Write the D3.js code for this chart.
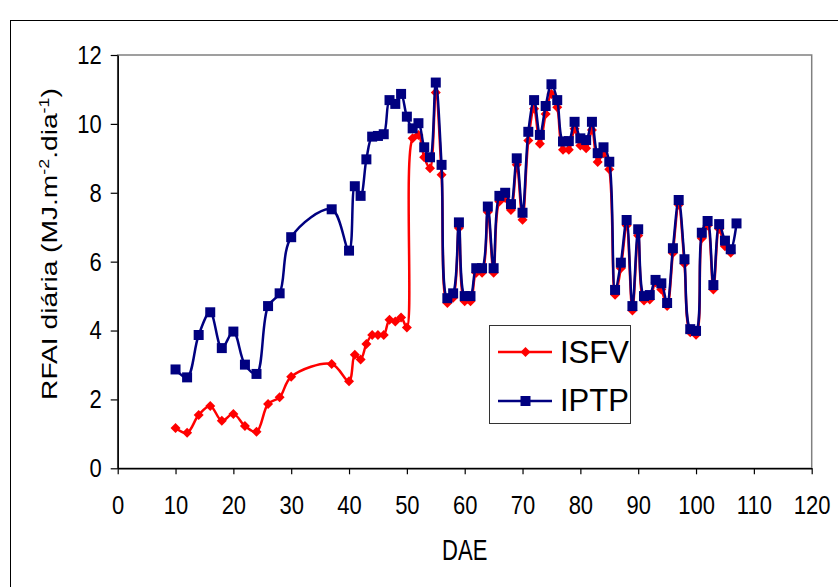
<!DOCTYPE html>
<html>
<head>
<meta charset="utf-8">
<script src="https://cdn.jsdelivr.net/npm/d3@7"></script>
<style>
  html, body { margin: 0; padding: 0; background: #fff; }
  svg { display: block; font-family: "Liberation Sans", Arial, sans-serif; }
</style>
</head>
<body>
<svg id="chart" width="838" height="587"></svg>
<script>
// Days after emergence (DAE)
const dae = [10, 12, 14, 16, 18, 20, 22, 24, 26, 28, 30, 37, 40, 41, 42, 43, 44, 45, 46, 47,
  48, 49, 50, 51, 52, 53, 54, 55, 56, 57, 58, 59, 60, 61, 62, 63, 64, 65, 66, 67,
  68, 69, 70, 71, 72, 73, 74, 75, 76, 77, 78, 79, 80, 81, 82, 83, 84, 85, 86, 87,
  88, 89, 90, 91, 92, 93, 94, 95, 96, 97, 98, 99, 100, 101, 102, 103, 104, 105, 106, 107];

// Daily RFAI, ISFV series (no reading at the last date)
const isfv = [1.17, 1.03, 1.55, 1.81, 1.38, 1.58, 1.23, 1.06, 1.87, 2.06, 2.66, 3.03, 2.53, 3.30, 3.16, 3.61, 3.87, 3.87, 3.87, 4.31,
  4.26, 4.38, 4.09, 9.58, 9.68, 9.03, 8.71, 10.91, 8.52, 4.80, 4.95, 6.98, 4.85, 4.85, 5.68, 5.68, 7.44, 5.68, 7.75, 7.85,
  7.50, 8.81, 7.22, 9.52, 10.44, 9.42, 10.29, 10.87, 10.48, 9.25, 9.25, 9.86, 9.37, 9.29, 9.82, 8.89, 9.15, 8.68, 5.04, 5.81,
  7.05, 4.58, 6.76, 4.87, 4.90, 5.40, 5.19, 4.71, 6.25, 7.65, 5.94, 3.95, 3.88, 6.68, 7.05, 5.19, 6.95, 6.45, 6.26];

// Daily RFAI, IPTP series
const iptp = [2.87, 2.64, 3.87, 4.53, 3.49, 3.97, 3.01, 2.74, 4.71, 5.08, 6.71, 7.52, 6.32, 8.19, 7.91, 8.97, 9.63, 9.65, 9.70, 10.69,
  10.58, 10.87, 10.21, 9.87, 10.02, 9.32, 9.03, 11.20, 8.81, 4.94, 5.08, 7.14, 5.00, 5.00, 5.81, 5.81, 7.60, 5.81, 7.91, 8.00,
  7.67, 9.00, 7.42, 9.77, 10.69, 9.68, 10.52, 11.15, 10.69, 9.49, 9.50, 10.06, 9.58, 9.53, 10.06, 9.15, 9.32, 8.90, 5.18, 5.97,
  7.21, 4.71, 6.94, 5.00, 5.03, 5.47, 5.37, 4.80, 6.39, 7.79, 6.07, 4.04, 3.99, 6.84, 7.18, 5.32, 7.09, 6.61, 6.36, 7.11];

const seriesNames = ["ISFV", "IPTP"];
const xTicks = d3.range(0, 121, 10);
const yTicks = d3.range(0, 13, 2);

const svg = d3.select("#chart");

const plot = { left: 117.7, right: 811.7, top: 55, bottom: 468.3 };
const x = d3.scaleLinear().domain([0, 120]).range([plot.left, plot.right]);
const y = d3.scaleLinear().domain([0, 12]).range([plot.bottom, plot.top]);

// text in this chart is drawn slightly tall and narrow
const stretch = 1.2;

// chart-area frame
svg.append("rect")
  .attr("x", 10.5).attr("y", 20.5)
  .attr("width", 900).attr("height", 700)
  .attr("fill", "none").attr("stroke", "#000").attr("stroke-width", 1);

// plot-area frame
svg.append("rect")
  .attr("x", plot.left).attr("y", plot.top)
  .attr("width", plot.right - plot.left).attr("height", plot.bottom - plot.top)
  .attr("fill", "none").attr("stroke", "#808080").attr("stroke-width", 1.5);

// axes
const yAxis = svg.append("g")
  .attr("transform", `translate(${plot.left},0)`)
  .call(d3.axisLeft(y).tickValues(yTicks).tickFormat(d3.format("d")).tickSize(7).tickPadding(9).tickSizeOuter(0));
const xAxis = svg.append("g")
  .attr("transform", `translate(0,${plot.bottom})`)
  .call(d3.axisBottom(x).tickValues(xTicks).tickFormat(d3.format("d")).tickSize(6).tickPadding(21).tickSizeOuter(0));

[yAxis, xAxis].forEach(g => {
  g.select(".domain").attr("stroke", "#000").attr("stroke-width", 1.5);
  g.selectAll(".tick line").attr("stroke", "#000").attr("stroke-width", 1.2);
  g.selectAll(".tick text")
    .attr("fill", "#000")
    .style("font-family", "'Liberation Sans', Arial, sans-serif")
    .style("font-size", "22px");
});
yAxis.selectAll(".tick text").attr("transform", `scale(1,${stretch})`);
xAxis.selectAll(".tick text").each(function () {
  const t = d3.select(this);
  const ty = +t.attr("y");
  t.attr("y", 0).attr("transform", `translate(0,${ty}) scale(1,${stretch})`);
});

// axis titles
svg.append("text")
  .attr("transform", `translate(${(plot.left + plot.right) / 2},560) scale(1,1.3)`)
  .attr("text-anchor", "middle")
  .style("font-size", "22px")
  .text("DAE");

const yTitle = svg.append("text")
  .attr("transform", "translate(57,244) rotate(-90) scale(1.28,1)")
  .attr("text-anchor", "middle")
  .style("font-size", "22px");
yTitle.append("tspan").text("RFAI diária (MJ.m");
yTitle.append("tspan").attr("dy", -8).style("font-size", "14px").text("-2");
yTitle.append("tspan").attr("dy", 8).text(".dia");
yTitle.append("tspan").attr("dy", -8).style("font-size", "14px").text("-1");
yTitle.append("tspan").attr("dy", 8).text(")");

// series
const line = d3.line()
  .x(d => x(d[0]))
  .y(d => y(d[1]))
  .curve(d3.curveCatmullRom.alpha(0.5));

const isfvPts = isfv.map((v, i) => [dae[i], v]);
const iptpPts = iptp.map((v, i) => [dae[i], v]);

const diamond = d3.symbol().type(d3.symbolSquare).size(50)();
const square = d3.symbol().type(d3.symbolSquare).size(100)();

function drawSeries(pts, color, markerPath, rotate) {
  const g = svg.append("g");
  g.append("path")
    .datum(pts)
    .attr("d", line)
    .attr("fill", "none")
    .attr("stroke", color)
    .attr("stroke-width", 2.5);
  g.selectAll("path.mk")
    .data(pts)
    .join("path")
    .attr("class", "mk")
    .attr("d", markerPath)
    .attr("transform", d => `translate(${x(d[0])},${y(d[1])})${rotate ? " rotate(45)" : ""}`)
    .attr("fill", color);
}

drawSeries(isfvPts, "#ff0000", diamond, true);
drawSeries(iptpPts, "#000080", square, false);

// legend
const legend = svg.append("g");
legend.append("rect")
  .attr("x", 489.5).attr("y", 325.5)
  .attr("width", 141).attr("height", 98)
  .attr("fill", "#fff").attr("stroke", "#333").attr("stroke-width", 1);

const legendItems = [
  { name: seriesNames[0], color: "#ff0000", marker: diamond, rotate: true, cy: 352, base: 363 },
  { name: seriesNames[1], color: "#000080", marker: square, rotate: false, cy: 401, base: 411 }
];
legendItems.forEach(it => {
  legend.append("line")
    .attr("x1", 498).attr("x2", 552)
    .attr("y1", it.cy).attr("y2", it.cy)
    .attr("stroke", it.color).attr("stroke-width", 2.5);
  legend.append("path")
    .attr("d", it.marker)
    .attr("transform", `translate(525.5,${it.cy})${it.rotate ? " rotate(45)" : ""}`)
    .attr("fill", it.color);
  legend.append("text")
    .attr("x", 560).attr("y", it.base)
    .style("font-size", "31px")
    .text(it.name);
});
</script>
</body>
</html>
